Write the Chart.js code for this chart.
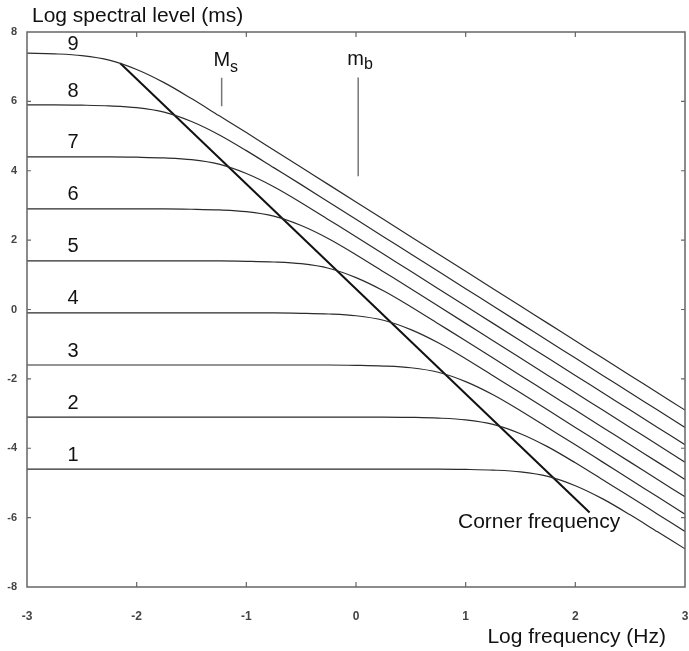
<!DOCTYPE html>
<html>
<head>
<meta charset="utf-8">
<script src="https://cdn.jsdelivr.net/npm/chart.js@4.4.1/dist/chart.umd.min.js"></script>
<style>
  html, body { margin: 0; padding: 0; background: #fff; }
  #wrap { width: 689px; height: 651px; }
</style>
</head>
<body>
<div id="wrap"><canvas id="myCanvas" width="689" height="651"></canvas></div>
<script>
// log frequency (Hz) sample points
const freq = [-3, -2.75, -2.5, -2.25, -2, -1.75, -1.5, -1.25, -1, -0.75, -0.5, -0.25,
  0, 0.25, 0.5, 0.75, 1, 1.25, 1.5, 1.75, 2, 2.25, 2.5, 2.75, 3];

// log spectral level for each curve
const spec9 = [7.39, 7.37, 7.32, 7.19, 6.92, 6.54, 6.08, 5.59, 5.10, 4.60, 4.10, 3.60,
  3.10, 2.60, 2.10, 1.60, 1.10, 0.60, 0.10, -0.40, -0.90, -1.40, -1.90, -2.40, -2.90];
const spec8 = [5.90, 5.90, 5.89, 5.87, 5.82, 5.69, 5.42, 5.04, 4.58, 4.09, 3.60, 3.10,
  2.60, 2.10, 1.60, 1.10, 0.60, 0.10, -0.40, -0.90, -1.40, -1.90, -2.40, -2.90, -3.40];
const spec7 = [4.40, 4.40, 4.40, 4.40, 4.39, 4.37, 4.32, 4.19, 3.92, 3.54, 3.08, 2.59,
  2.10, 1.60, 1.10, 0.60, 0.10, -0.40, -0.90, -1.40, -1.90, -2.40, -2.90, -3.40, -3.90];
const spec6 = [2.90, 2.90, 2.90, 2.90, 2.90, 2.90, 2.89, 2.87, 2.82, 2.69, 2.42, 2.04,
  1.58, 1.09, 0.60, 0.10, -0.40, -0.90, -1.40, -1.90, -2.40, -2.90, -3.40, -3.90, -4.40];
const spec5 = [1.40, 1.40, 1.40, 1.40, 1.40, 1.40, 1.40, 1.40, 1.39, 1.37, 1.32, 1.19,
  0.92, 0.54, 0.08, -0.41, -0.90, -1.40, -1.90, -2.40, -2.90, -3.40, -3.90, -4.40, -4.90];
const spec4 = [-0.10, -0.10, -0.10, -0.10, -0.10, -0.10, -0.10, -0.10, -0.10, -0.10, -0.11, -0.13,
  -0.18, -0.31, -0.58, -0.96, -1.42, -1.91, -2.40, -2.90, -3.40, -3.90, -4.40, -4.90, -5.40];
const spec3 = [-1.60, -1.60, -1.60, -1.60, -1.60, -1.60, -1.60, -1.60, -1.60, -1.60, -1.60, -1.60,
  -1.61, -1.63, -1.68, -1.81, -2.08, -2.46, -2.92, -3.41, -3.90, -4.40, -4.90, -5.40, -5.90];
const spec2 = [-3.10, -3.10, -3.10, -3.10, -3.10, -3.10, -3.10, -3.10, -3.10, -3.10, -3.10, -3.10,
  -3.10, -3.10, -3.11, -3.13, -3.18, -3.31, -3.58, -3.96, -4.42, -4.91, -5.40, -5.90, -6.40];
const spec1 = [-4.60, -4.60, -4.60, -4.60, -4.60, -4.60, -4.60, -4.60, -4.60, -4.60, -4.60, -4.60,
  -4.60, -4.60, -4.60, -4.60, -4.61, -4.63, -4.68, -4.81, -5.08, -5.46, -5.92, -6.41, -6.90];

const curves = [spec1, spec2, spec3, spec4, spec5, spec6, spec7, spec8, spec9];
const curveNames = ['1', '2', '3', '4', '5', '6', '7', '8', '9'];
const curveLabelX = -2.58;
const curveLabelY = [-4.37, -2.87, -1.37, 0.15, 1.65, 3.15, 4.65, 6.13, 7.47];

// corner frequency line
const cornerX = [-2.15, 2.13];
const cornerY = [7.1, -5.85];

// magnitude markers (Ms at 20 s, mb at 1 s)
const markerX = [-1.225, 0.02];
const markerTop = [6.68, 6.69];
const markerBottom = [5.86, 3.84];

const xTicks = [-3, -2, -1, 0, 1, 2, 3];
const yTicks = [-8, -6, -4, -2, 0, 2, 4, 6, 8];

const FONT = '"Liberation Sans", Arial, Helvetica, sans-serif';

const datasets = curves.map((c, k) => ({
  label: 'curve ' + curveNames[k],
  data: c.map((v, i) => ({ x: freq[i], y: v })),
  borderColor: '#2b2b2b',
  borderWidth: 1.2,
  pointRadius: 0,
  cubicInterpolationMode: 'monotone',
  fill: false
}));

datasets.push({
  label: 'Corner frequency',
  data: cornerX.map((x, i) => ({ x: x, y: cornerY[i] })),
  borderColor: '#111',
  borderWidth: 2,
  pointRadius: 0
});

markerX.forEach((x, i) => {
  datasets.push({
    label: i === 0 ? 'Ms' : 'mb',
    data: [{ x: x, y: markerTop[i] }, { x: x, y: markerBottom[i] }],
    borderColor: '#777',
    borderWidth: 1.5,
    pointRadius: 0
  });
});

const decorations = {
  id: 'decorations',
  afterDraw(chart) {
    const ctx = chart.ctx;
    const a = chart.chartArea;
    const xs = chart.scales.x, ys = chart.scales.y;
    ctx.save();

    // frame
    ctx.strokeStyle = '#666';
    ctx.lineWidth = 1.5;
    ctx.strokeRect(a.left, a.top, a.right - a.left, a.bottom - a.top);

    // inner tick marks
    ctx.lineWidth = 1.2;
    xTicks.slice(1, -1).forEach(t => {
      const px = xs.getPixelForValue(t);
      ctx.beginPath();
      ctx.moveTo(px, a.bottom); ctx.lineTo(px, a.bottom - 5);
      ctx.moveTo(px, a.top); ctx.lineTo(px, a.top + 5);
      ctx.stroke();
    });
    yTicks.slice(1, -1).forEach(t => {
      const py = ys.getPixelForValue(t);
      ctx.beginPath();
      ctx.moveTo(a.left, py); ctx.lineTo(a.left + 4, py);
      ctx.moveTo(a.right, py); ctx.lineTo(a.right - 4, py);
      ctx.stroke();
    });

    ctx.fillStyle = '#111';
    // curve numbers
    ctx.font = '20px ' + FONT;
    ctx.textAlign = 'center';
    ctx.textBaseline = 'alphabetic';
    curveNames.forEach((n, k) => {
      ctx.fillText(n, xs.getPixelForValue(curveLabelX), ys.getPixelForValue(curveLabelY[k]));
    });

    // Ms and mb
    ctx.textAlign = 'left';
    ctx.font = '20px ' + FONT;
    let px = xs.getPixelForValue(-1.30);
    ctx.fillText('M', px, ys.getPixelForValue(7.03));
    let w = ctx.measureText('M').width;
    ctx.font = '16px ' + FONT;
    ctx.fillText('s', px + w, ys.getPixelForValue(6.86));

    ctx.font = '20px ' + FONT;
    px = xs.getPixelForValue(-0.08);
    ctx.fillText('m', px, ys.getPixelForValue(7.06));
    w = ctx.measureText('m').width;
    ctx.font = '16px ' + FONT;
    ctx.fillText('b', px + w, ys.getPixelForValue(6.92));

    // corner frequency label
    ctx.font = '21px ' + FONT;
    ctx.fillText('Corner frequency', xs.getPixelForValue(0.93), ys.getPixelForValue(-6.3));

    // axis titles
    ctx.font = '21px ' + FONT;
    ctx.textAlign = 'left';
    ctx.fillText('Log spectral level (ms)', a.left + 5, 22);
    ctx.textAlign = 'right';
    ctx.fillText('Log frequency (Hz)', 666, 643);

    ctx.restore();
  }
};

const config = {
  type: 'line',
  data: { datasets: datasets },
  options: {
    responsive: false,
    animation: false,
    layout: { padding: { left: 0, right: 4, top: 32, bottom: 0 } },
    plugins: {
      legend: { display: false },
      tooltip: { enabled: false }
    },
    scales: {
      x: {
        type: 'linear',
        min: -3,
        max: 3,
        afterBuildTicks(s) { s.ticks = xTicks.map(v => ({ value: v })); },
        afterFit(s) { s.height = 64; s.paddingRight = 0; s.paddingLeft = 0; },
        grid: { display: false, drawTicks: true, tickLength: 22 },
        border: { display: false },
        ticks: {
          padding: 0,
          color: '#444',
          font: { family: FONT, size: 12, weight: 'bold' }
        }
      },
      y: {
        type: 'linear',
        min: -8,
        max: 8,
        afterBuildTicks(s) { s.ticks = yTicks.map(v => ({ value: v })); },
        afterFit(s) { s.width = 27; },
        grid: { display: false, drawTicks: false },
        border: { display: false },
        ticks: {
          padding: 10,
          color: '#444',
          font: { family: FONT, size: 11, weight: 'bold' }
        }
      }
    }
  },
  plugins: [decorations]
};

const myChart = new Chart(document.getElementById('myCanvas'), config);
</script>
</body>
</html>
